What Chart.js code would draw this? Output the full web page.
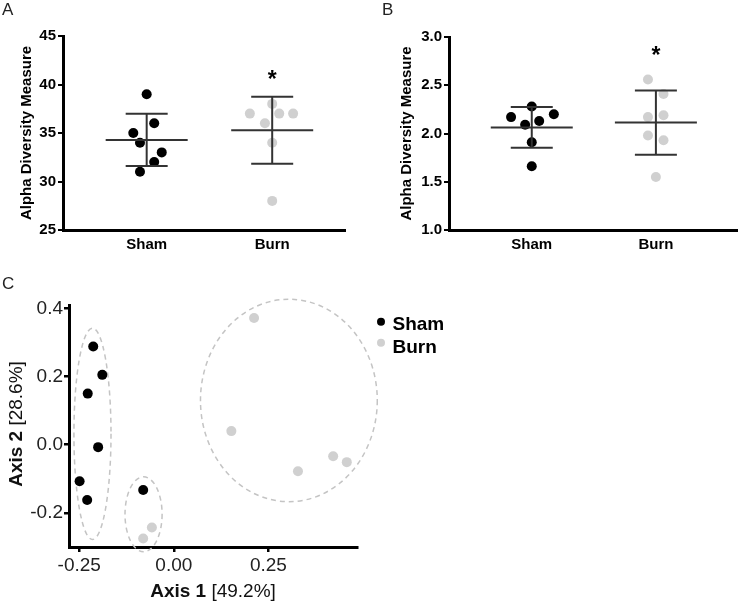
<!DOCTYPE html>
<html><head><meta charset="utf-8">
<script src="https://cdn.jsdelivr.net/npm/chart.js@4.4.0/dist/chart.umd.min.js"></script>
<style>
html,body{margin:0;padding:0;background:#fff;}
#wrap{position:relative;width:742px;height:603px;overflow:hidden;font-family:"Liberation Sans",Arial,sans-serif;}
.pl{position:absolute;font-size:17px;color:#222;line-height:17px;}
canvas{position:absolute;}
</style></head><body>
<div id="wrap">
<canvas id="cA" width="370" height="280" style="left:0;top:0"></canvas>
<canvas id="cB" width="372" height="280" style="left:370px;top:0"></canvas>
<canvas id="cC" width="480" height="323" style="left:0;top:280px"></canvas>
<div class="pl" style="left:2px;top:1px">A</div>
<div class="pl" style="left:382px;top:1px">B</div>
<div class="pl" style="left:2px;top:275px">C</div>
</div>
<script>
// ---------- data ----------
const groups = ['Sham', 'Burn'];
const groupX = [1, 2.5];
const shamA = [39, 35, 36, 34, 33, 32, 31];
const shamAJitter = [0, -0.16, 0.09, -0.08, 0.18, 0.09, -0.08];
const burnA = [38, 37, 37, 37, 36, 34, 28];
const burnAJitter = [0, -0.267, 0.084, 0.25, -0.087, 0, 0];
const ticksA = [25, 30, 35, 40, 45];
const sigA = 41.1;

const shamB = [2.28, 2.17, 2.20, 2.09, 2.13, 1.91, 1.66];
const shamBJitter = [0, -0.25, 0.267, -0.08, 0.09, 0, 0];
const burnB = [2.56, 2.41, 2.17, 2.19, 1.98, 1.93, 1.55];
const burnBJitter = [-0.096, 0.092, -0.096, 0.092, -0.096, 0.092, 0];
const ticksB = [1.0, 1.5, 2.0, 2.5, 3.0];
const sigB = 2.865;

const shamAxis1 = [-0.213, -0.189, -0.2275, -0.200, -0.249, -0.229, -0.081];
const shamAxis2 = [0.288, 0.205, 0.150, -0.007, -0.107, -0.162, -0.133];
const burnAxis1 = [0.212, 0.152, 0.328, 0.421, 0.457, -0.058, -0.081];
const burnAxis2 = [0.372, 0.040, -0.078, -0.034, -0.051, -0.243, -0.275];
const ellipseCx = [-0.215, -0.080, 0.304];
const ellipseCy = [0.032, -0.204, 0.130];
const ellipseRx = [0.049, 0.049, 0.2336];
const ellipseRy = [0.310, 0.110, 0.297];
const ticksC1 = [-0.25, 0, 0.25];
const ticksC2 = [-0.2, 0, 0.2, 0.4];
const axisTitles = [['Axis 1', '[49.2%]'], ['Axis 2', '[28.6%]']];

const FAM = '"Liberation Sans", Arial, sans-serif';
const SHAM_C = '#000000', BURN_C = '#d0d0d0';

// ---------- plugins ----------
const statsPlugin = {
  id: 'stats',
  afterDatasetsDraw(chart, args, opts) {
    if (!opts.groups) return;
    const ctx = chart.ctx, xs = chart.scales.x, ys = chart.scales.y;
    ctx.save();
    ctx.strokeStyle = '#333'; ctx.lineWidth = 2;
    const ln = (a, b, c, d) => { ctx.beginPath(); ctx.moveTo(a, b); ctx.lineTo(c, d); ctx.stroke(); };
    opts.groups.forEach(g => {
      const n = g.values.length;
      const mean = g.values.reduce((a, b) => a + b, 0) / n;
      const sd = Math.sqrt(g.values.reduce((a, b) => a + (b - mean) ** 2, 0) / (n - 1));
      const cx = xs.getPixelForValue(g.x);
      const ym = ys.getPixelForValue(mean), yt = ys.getPixelForValue(mean + sd), yb = ys.getPixelForValue(mean - sd);
      ln(cx - 41, ym, cx + 41, ym);
      ln(cx - 21, yt, cx + 21, yt);
      ln(cx - 21, yb, cx + 21, yb);
      ln(cx, yt, cx, yb);
      if (g.star != null) {
        ctx.fillStyle = '#000';
        ctx.font = 'bold 23px ' + FAM;
        ctx.textAlign = 'center'; ctx.textBaseline = 'alphabetic';
        ctx.fillText('*', cx, ys.getPixelForValue(g.star) + 0.57 * 23);
      }
    });
    ctx.restore();
  }
};

const pcoaPlugin = {
  id: 'pcoa',
  beforeDatasetsDraw(chart, args, opts) {
    if (!opts.ellipses) return;
    const ctx = chart.ctx, xs = chart.scales.x, ys = chart.scales.y;
    ctx.save();
    ctx.strokeStyle = '#c4c4c4'; ctx.lineWidth = 1.5; ctx.setLineDash([5, 4]);
    ellipseCx.forEach((cx, i) => {
      const px = xs.getPixelForValue(cx), py = ys.getPixelForValue(ellipseCy[i]);
      const rx = Math.abs(xs.getPixelForValue(cx + ellipseRx[i]) - px);
      const ry = Math.abs(ys.getPixelForValue(ellipseCy[i] + ellipseRy[i]) - py);
      ctx.beginPath(); ctx.ellipse(px, py, rx, ry, 0, 0, Math.PI * 2); ctx.stroke();
    });
    ctx.restore();
  },
  afterDraw(chart, args, opts) {
    if (!opts.ellipses) return;
    const ctx = chart.ctx, area = chart.chartArea;
    ctx.save();
    // legend
    const lx = area.right + 24;
    [[groups[0], SHAM_C, 16.7, 20], [groups[1], BURN_C, 37.7, 42.5]].forEach(([t, c, dy, ty]) => {
      ctx.fillStyle = c; ctx.beginPath(); ctx.arc(lx, area.top + dy, 4, 0, Math.PI * 2); ctx.fill();
      ctx.fillStyle = '#000'; ctx.font = 'bold 19px ' + FAM; ctx.textAlign = 'left'; ctx.textBaseline = 'middle';
      ctx.fillText(t, lx + 11.5, area.top + ty);
    });
    // axis titles (bold name + regular percentage)
    const drawMixed = (pair, x, y, rot) => {
      ctx.save(); ctx.translate(x, y); ctx.rotate(rot);
      ctx.textBaseline = 'middle'; ctx.textAlign = 'left'; ctx.fillStyle = '#111';
      ctx.font = 'bold 19px ' + FAM; const w1 = ctx.measureText(pair[0] + ' ').width;
      ctx.font = '19px ' + FAM; const w2 = ctx.measureText(pair[1]).width;
      const x0 = -(w1 + w2) / 2;
      ctx.font = 'bold 19px ' + FAM; ctx.fillText(pair[0] + ' ', x0, 0);
      ctx.font = '19px ' + FAM; ctx.fillText(pair[1], x0 + w1, 0);
      ctx.restore();
    };
    drawMixed(axisTitles[0], (area.left + area.right) / 2, area.bottom + 45, 0);
    drawMixed(axisTitles[1], 17, (area.top + area.bottom) / 2 - 2, -Math.PI / 2);
    ctx.restore();
  }
};

// ---------- panels A & B ----------
function dotChart(id, sham, shamJ, burn, burnJ, yMin, yMax, yTicks, dec, xMax, sig, pad, yW, titlePad) {
  const mk = (vals, jit) => vals.map((v, i) => ({ x: groupX[groups.length === 2 && vals === sham ? 0 : 1] + jit[i], y: v }));
  return new Chart(document.getElementById(id), {
    type: 'scatter',
    data: {
      datasets: [
        { label: groups[0], data: sham.map((v, i) => ({ x: groupX[0] + shamJ[i], y: v })), backgroundColor: SHAM_C, pointRadius: 5, borderWidth: 0, clip: false },
        { label: groups[1], data: burn.map((v, i) => ({ x: groupX[1] + burnJ[i], y: v })), backgroundColor: BURN_C, pointRadius: 5, borderWidth: 0, clip: false }
      ]
    },
    options: {
      responsive: false, animation: false, events: [],
      layout: { padding: pad },
      plugins: {
        legend: { display: false }, tooltip: { enabled: false },
        stats: { groups: [{ x: groupX[0], values: sham }, { x: groupX[1], values: burn, star: sig }] }
      },
      scales: {
        x: {
          type: 'linear', min: 0, max: xMax,
          afterBuildTicks: s => { s.ticks = groupX.map(v => ({ value: v })); },
          afterFit: s => { s.height = 50; },
          grid: { display: false, drawTicks: false },
          border: { display: true, color: '#000', width: 3 },
          ticks: { callback: (v, i) => groups[i], font: { family: FAM, size: 15, weight: 'bold' }, color: '#000', padding: 6, maxRotation: 0, autoSkip: false }
        },
        y: {
          min: yMin, max: yMax,
          afterBuildTicks: s => { s.ticks = yTicks.map(v => ({ value: v })); },
          afterFit: s => { s.width = yW; },
          grid: { display: true, drawOnChartArea: false, drawTicks: true, tickLength: 5, color: '#000', lineWidth: 2 },
          border: { display: true, color: '#000', width: 3 },
          ticks: { callback: v => dec ? v.toFixed(1) : String(v), font: { family: FAM, size: 15, weight: 'bold' }, color: '#000', padding: 2, autoSkip: false },
          title: { display: true, text: 'Alpha Diversity Measure', font: { family: FAM, size: 15, weight: 'bold' }, color: '#000', padding: { top: titlePad, bottom: 0 } }
        }
      }
    },
    plugins: [statsPlugin]
  });
}

dotChart('cA', shamA, shamAJitter, burnA, burnAJitter, 25, 45, ticksA, false, 3.37, sigA,
  { left: 0, top: 36, right: 25, bottom: 0 }, 63, 18);
dotChart('cB', shamB, shamBJitter, burnB, burnBJitter, 1.0, 3.0, ticksB, true, 3.48, sigB,
  { left: 0, top: 37, right: 2, bottom: 0 }, 79, 28);

// ---------- panel C ----------
new Chart(document.getElementById('cC'), {
  type: 'scatter',
  data: {
    datasets: [
      { label: groups[0], data: shamAxis1.map((v, i) => ({ x: v, y: shamAxis2[i] })), backgroundColor: SHAM_C, pointRadius: 5, borderWidth: 0, clip: false },
      { label: groups[1], data: burnAxis1.map((v, i) => ({ x: v, y: burnAxis2[i] })), backgroundColor: BURN_C, pointRadius: 5, borderWidth: 0, clip: false }
    ]
  },
  options: {
    responsive: false, animation: false, events: [],
    layout: { padding: { left: 0, top: 25, right: 123, bottom: 0 } },
    plugins: { legend: { display: false }, tooltip: { enabled: false }, pcoa: { ellipses: true } },
    scales: {
      x: {
        type: 'linear', min: -0.277, max: 0.484,
        afterBuildTicks: s => { s.ticks = ticksC1.map(v => ({ value: v })); },
        afterFit: s => { s.height = 56; },
        grid: { display: true, drawOnChartArea: false, drawTicks: true, tickLength: 5, color: '#000', lineWidth: 2.5 },
        border: { display: true, color: '#000', width: 3 },
        ticks: { callback: v => v.toFixed(2), font: { family: FAM, size: 19 }, color: '#222', padding: 2, maxRotation: 0, autoSkip: false }
      },
      y: {
        min: -0.3, max: 0.41,
        afterBuildTicks: s => { s.ticks = ticksC2.map(v => ({ value: v })); },
        afterFit: s => { s.width = 69; },
        grid: { display: true, drawOnChartArea: false, drawTicks: true, tickLength: 5, color: '#000', lineWidth: 2.5 },
        border: { display: true, color: '#000', width: 3 },
        ticks: { callback: v => v.toFixed(1), font: { family: FAM, size: 19 }, color: '#222', padding: 1, autoSkip: false }
      }
    }
  },
  plugins: [pcoaPlugin]
});
</script>
</body></html>
